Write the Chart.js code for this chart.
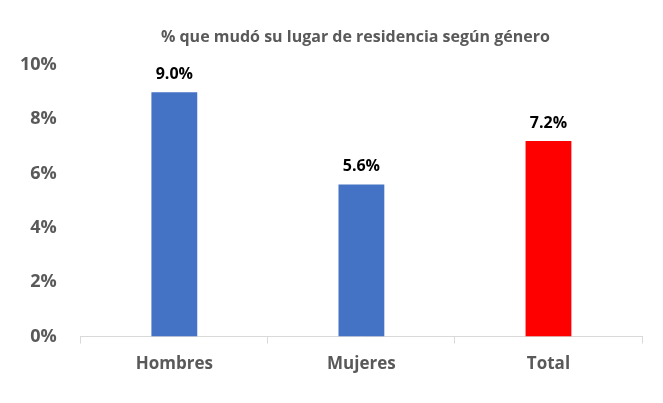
<!DOCTYPE html>
<html>
<head>
<meta charset="utf-8">
<script src="https://cdn.jsdelivr.net/npm/chart.js@4"></script>
<style>
  html, body { margin: 0; padding: 0; background: #fff; }
  #wrap { width: 663px; height: 403px; }
</style>
</head>
<body>
<div id="wrap"><canvas id="bar-canvas"></canvas></div>
<script>
const categories = ['Hombres', 'Mujeres', 'Total'];
const pct_values = [9.0, 5.6, 7.2];
const bar_colors = ['#4472C4', '#4472C4', '#FF0000'];
const y_ticks = [0, 2, 4, 6, 8, 10];
const chart_title = '% que mudó su lugar de residencia según género';

const FONT = "'Open Sans'";

// value above each bar + title centred over the plot area
const valueLabels = {
    id: 'valueLabels',
    afterDatasetsDraw(chart) {
        const ctx = chart.ctx;
        const area = chart.chartArea;
        const meta = chart.getDatasetMeta(0);
        ctx.save();
        ctx.textAlign = 'center';
        ctx.textBaseline = 'middle';
        ctx.font = 'bold 16px ' + FONT;
        ctx.fillStyle = '#595959';
        ctx.fillText(chart_title, (area.left + area.right) / 2 - 6, 37);
        ctx.fillStyle = '#000000';
        meta.data.forEach((bar, i) => {
            ctx.fillText(pct_values[i].toFixed(1) + '%', bar.x, bar.y - 18);
        });
        ctx.restore();
    }
};

const bar_config = {
    type: 'bar',
    data: {
        labels: categories,
        datasets: [
            {
                data: pct_values,
                backgroundColor: bar_colors,
                categoryPercentage: 1.0,
                barPercentage: 0.245
            }
        ]
    },
    options: {
        responsive: true,
        maintainAspectRatio: false,
        animation: false,
        layout: {
            padding: { left: 4, right: 21, top: 65, bottom: 19 }
        },
        plugins: {
            legend: { display: false },
            tooltip: { enabled: false },
            title: { display: false }
        },
        scales: {
            x: {
                grid: {
                    display: true,
                    drawOnChartArea: false,
                    drawTicks: true,
                    tickLength: 7,
                    color: '#D9D9D9'
                },
                border: { display: true, color: '#D9D9D9' },
                ticks: {
                    color: '#595959',
                    font: { family: FONT, size: 17, weight: 'bold' },
                    padding: 10
                }
            },
            y: {
                min: 0,
                max: 10,
                afterBuildTicks: (axis) => {
                    axis.ticks = y_ticks.map(v => ({ value: v }));
                },
                grid: { display: false },
                border: { display: false },
                ticks: {
                    color: '#595959',
                    font: { family: FONT, size: 18, weight: 'bold' },
                    padding: 16,
                    callback: (v) => v + '%'
                }
            }
        }
    },
    plugins: [valueLabels]
};

const bar_ctx = document.getElementById('bar-canvas');
let bar_chart = new Chart(bar_ctx, bar_config);
</script>
</body>
</html>
